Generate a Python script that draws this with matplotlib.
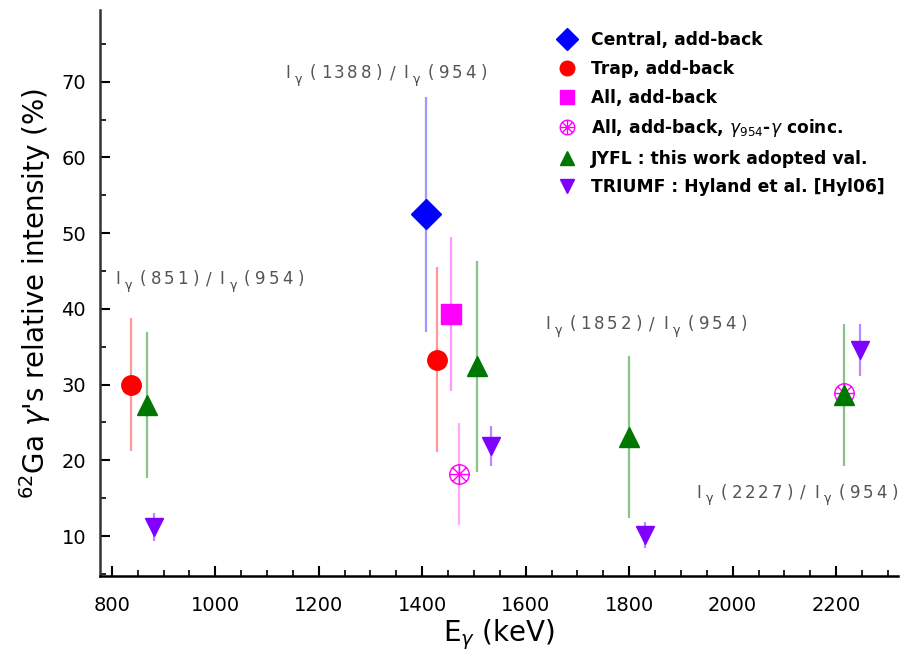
import numpy as np
import matplotlib
matplotlib.use('Agg')
import matplotlib.pyplot as plt
from matplotlib.path import Path

# Data (E_gamma in keV, intensity in %)
central_x = [1408]
central_y = [52.5]
central_err = [15.5]

trap_x = [838, 1428]
trap_y = [30.0, 33.3]
trap_err = [8.8, 12.2]

all_x = [1455]
all_y = [39.3]
all_err = [10.2]

coinc_x = [1472, 2216]
coinc_y = [18.2, 28.9]
coinc_err = [6.7, 0.0]

jyfl_x = [868, 1505, 1800, 2215]
jyfl_y = [27.3, 32.4, 23.1, 28.6]
jyfl_err = [9.6, 13.9, 10.7, 9.4]

triumf_x = [882, 1532, 1830, 2247]
triumf_y = [11.2, 21.9, 10.1, 34.6]
triumf_err = [1.8, 2.7, 1.7, 3.4]

# ratio annotations: numerator energies and where they start
ratio_num = ['851', '1388', '1852', '2227']
ratio_pos = [(811, 43.9), (1140, 71.1), (1642, 38.0), (1934, 15.7)]

# circle with spokes marker
circ = Path.unit_circle()
spokes = []
for a in np.arange(0, np.pi, np.pi / 4):
    spokes.append(Path([(-np.cos(a), -np.sin(a)), (np.cos(a), np.sin(a))], [Path.MOVETO, Path.LINETO]))
coinc_marker = Path.make_compound_path(circ, *spokes)

fig = plt.figure(figsize=(9, 6.57), dpi=100)
ax = fig.add_axes([0.111, 0.123, 0.887, 0.862])

def series(x, y, e, marker, color, ecolor, label, ms, **kw):
    ax.errorbar(x, y, yerr=e, fmt='none', ecolor=ecolor, elinewidth=1.6, capsize=0, zorder=2)
    ax.plot(x, y, linestyle='none', marker=marker, color=color, markersize=ms, label=label, zorder=3, **kw)

series(central_x, central_y, central_err, 'D', '#0000ff', '#9999ff', 'Central, add-back', 15)
series(trap_x, trap_y, trap_err, 'o', '#ff0000', '#ff9999', 'Trap, add-back', 14)
series(all_x, all_y, all_err, 's', '#ff00ff', '#ff99ff', 'All, add-back', 14)
series(coinc_x, coinc_y, coinc_err, coinc_marker, '#ff00ff', '#ffaaff',
       r'All, add-back, $\gamma_{954}$-$\gamma$ coinc.', 14,
       markerfacecolor='none', markeredgewidth=1.0)
series(jyfl_x, jyfl_y, jyfl_err, '^', '#007700', '#88c488', 'JYFL : this work adopted val.', 14)
series(triumf_x, triumf_y, triumf_err, 'v', '#7f00ff', '#bb88ff', 'TRIUMF : Hyland et al. [Hyl06]', 13)

# widely spaced ratio labels, one glyph at a time
def spaced_label(x0, y0, num):
    chars = ['I', 'γ', '('] + list(num) + [')', '/', 'I', 'γ', '(', '9', '5', '4', ')']
    off = 0.0
    for c in chars:
        if c == 'γ':
            ax.annotate(c, (x0, y0), xytext=(off, -6), textcoords='offset pixels',
                        fontsize=9, color='#444444', ha='center', va='center')
            off += 14
        else:
            ax.annotate(c, (x0, y0), xytext=(off, 0), textcoords='offset pixels',
                        fontsize=12, color='#555555', ha='center', va='center')
            off += 11 if c == 'I' else 13.3

for num, (px, py) in zip(ratio_num, ratio_pos):
    spaced_label(px, py, num)

ax.set_xlim(777, 2320)
ax.set_ylim(4.7, 79.5)
ax.set_xticks(np.arange(800, 2201, 200))
ax.set_xticks(np.arange(800, 2301, 50), minor=True)
ax.set_yticks(np.arange(10, 71, 10))
ax.set_yticks(np.arange(5, 80, 5), minor=True)
ax.tick_params(direction='in', which='major', length=7, width=1.5, labelsize=14)
ax.tick_params(axis='x', which='major', pad=14)
ax.tick_params(axis='y', which='major', pad=10)
ax.tick_params(direction='in', which='minor', length=4, width=1.2)
ax.spines['top'].set_visible(False)
ax.spines['right'].set_visible(False)
ax.spines['left'].set_linewidth(1.8)
ax.spines['left'].set_color('#333333')
ax.spines['bottom'].set_linewidth(1.8)

ax.set_xlabel(r'E$_\gamma$ (keV)', fontsize=20, labelpad=2)
ax.set_ylabel(r"$^{62}$Ga $\gamma$'s relative intensity (%)", fontsize=20, labelpad=6)

leg = ax.legend(loc='upper left', bbox_to_anchor=(0.574, 0.962), frameon=False,
                prop={'weight': 'bold', 'size': 12.3}, handlelength=1.05,
                handletextpad=0.85, labelspacing=0.62, numpoints=1,
                borderpad=0, borderaxespad=0, markerscale=0.75)

fig.savefig('out.png', dpi=100)
